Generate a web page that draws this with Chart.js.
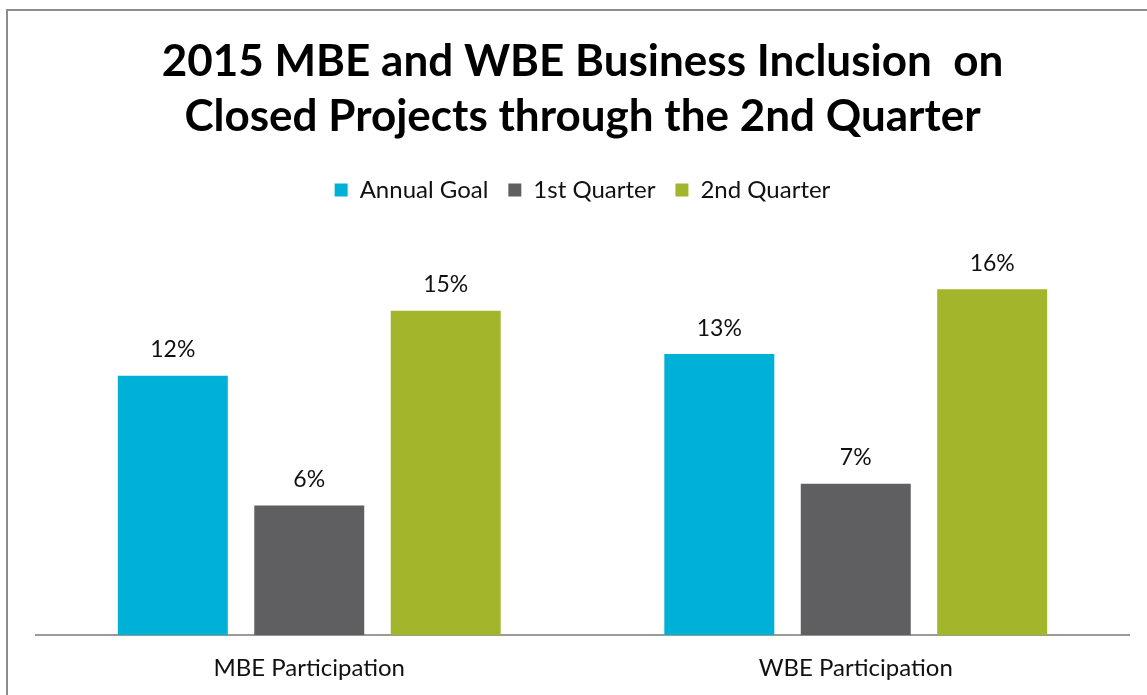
<!DOCTYPE html>
<html>
<head>
<meta charset="utf-8">
<script src="https://cdn.jsdelivr.net/npm/chart.js@4"></script>
<style>
    html, body { margin: 0; padding: 0; background: #fff; overflow: hidden; }
    #frame {
        position: absolute; left: 6px; top: 9px; width: 1300px; height: 800px;
        border-left: 2px solid #8c8c8c; border-top: 2px solid #8c8c8c;
    }
    #wrap { position: absolute; left: 0; top: 0; width: 1147px; height: 695px; }
</style>
</head>
<body>
<div id="frame"></div>
<div id="wrap"><canvas id="inclusionChart"></canvas></div>
<script>
const categories = ['MBE Participation', 'WBE Participation'];
const seriesNames = ['Annual Goal', '1st Quarter', '2nd Quarter'];
const annualGoal = [12, 13];
const firstQuarter = [6, 7];
const secondQuarter = [15, 16];
const seriesColors = ['#00B1D7', '#5F5F61', '#A3B52A'];

const FONT = 'Lato, "Open Sans", sans-serif';

// draws the "12%" style labels over each bar
const valueLabels = {
    id: 'valueLabels',
    afterDatasetsDraw(chart) {
        const ctx = chart.ctx;
        ctx.save();
        ctx.font = '23px ' + FONT;
        ctx.fillStyle = '#111';
        ctx.textAlign = 'center';
        ctx.textBaseline = 'middle';
        chart.data.datasets.forEach((ds, i) => {
            chart.getDatasetMeta(i).data.forEach((bar, j) => {
                ctx.fillText(ds.data[j] + '%', bar.x, bar.y - 26);
            });
        });
        ctx.restore();
    }
};

// extra room under the legend before the bars start
const legendGap = {
    id: 'legendGap',
    beforeInit(chart) {
        const fit = chart.legend.fit;
        chart.legend.fit = function () {
            fit.call(this);
            this.height += 34;
        };
    }
};

function createChart() {
    const ctx = document.getElementById('inclusionChart').getContext('2d');
    new Chart(ctx, {
        type: 'bar',
        data: {
            labels: categories,
            datasets: [annualGoal, firstQuarter, secondQuarter].map((vals, i) => ({
                label: seriesNames[i],
                data: vals,
                backgroundColor: seriesColors[i],
                borderWidth: 0,
                categoryPercentage: 0.749,
                barPercentage: 0.806
            }))
        },
        options: {
            responsive: true,
            maintainAspectRatio: false,
            animation: false,
            layout: { padding: { left: 36, right: 18, top: 8, bottom: -7 } },
            scales: {
                x: {
                    grid: { display: false, drawTicks: false, tickLength: 0 },
                    border: { display: true, color: '#9a9a9a', width: 2 },
                    ticks: { color: '#111', padding: 19, font: { family: FONT, size: 24 } }
                },
                y: {
                    display: false,
                    min: 0,
                    max: 18
                }
            },
            plugins: {
                title: {
                    display: true,
                    text: ['2015 MBE and WBE Business Inclusion  on', 'Closed Projects through the 2nd Quarter'],
                    color: '#000',
                    font: { family: FONT, size: 44, weight: 'bold', lineHeight: 1.25 },
                    padding: { top: 26, bottom: 14 }
                },
                legend: {
                    display: true,
                    labels: {
                        color: '#111',
                        boxWidth: 13,
                        boxHeight: 13,
                        padding: 20,
                        font: { family: FONT, size: 24 }
                    }
                },
                tooltip: { enabled: false }
            }
        },
        plugins: [valueLabels, legendGap]
    });
}

document.addEventListener('DOMContentLoaded', createChart);
</script>
</body>
</html>
